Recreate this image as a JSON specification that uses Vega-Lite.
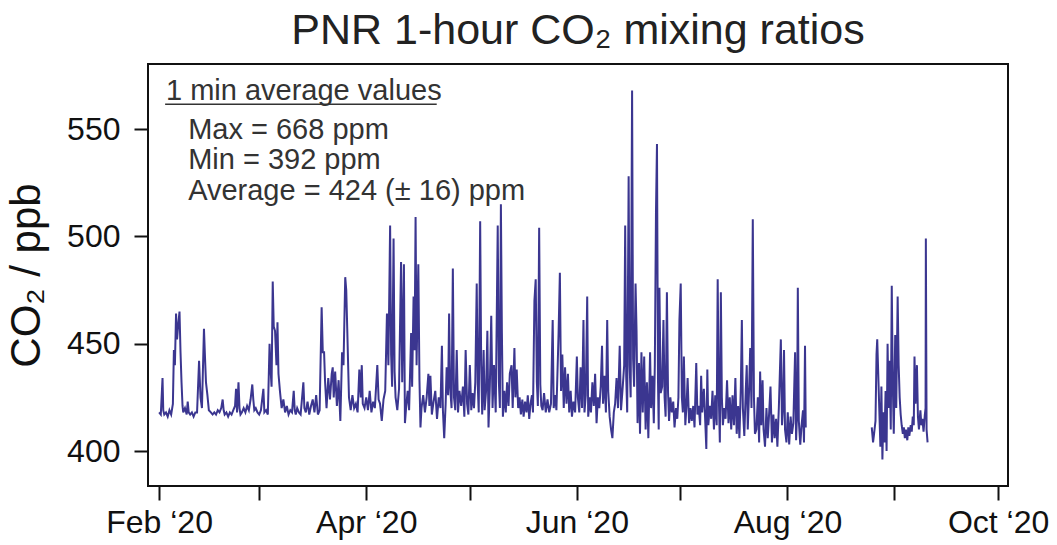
{
  "$schema": "https://vega.github.io/schema/vega-lite/v6.json",
  "autosize": {"type": "none"},
  "width": 860,
  "height": 422,
  "padding": {"left": 148, "top": 64, "right": 49, "bottom": 59},
  "background": "white",
  "config": {
    "font": "Liberation Sans",
    "view": {"stroke": "#111111", "strokeWidth": 2},
    "axis": {"grid": false, "domain": false, "tickColor": "#111111", "tickWidth": 2, "tickSize": 14, "labelColor": "#111111", "labelFont": "Liberation Sans", "labelFontSize": 32, "titleFont": "Liberation Sans", "titleFontWeight": "normal", "titleColor": "#111111"}
  },
  "title": {"text": "PNR 1-hour CO₂ mixing ratios", "fontSize": 43, "fontWeight": "normal", "color": "#222222", "font": "Liberation Sans", "anchor": "middle", "offset": 11},
  "layer": [
    {
      "data": {
        "format": {"parse": {"t": "utc:'%Y-%m-%d %H'"}},
        "values": [
          {"t":"2020-02-01 00","v":418},{"t":"2020-02-01 12","v":417},{"t":"2020-02-02 00","v":434},{"t":"2020-02-02 05","v":419},{"t":"2020-02-02 12","v":417},
          {"t":"2020-02-03 00","v":418},{"t":"2020-02-03 12","v":416},{"t":"2020-02-04 00","v":419},{"t":"2020-02-04 12","v":417},
          {"t":"2020-02-05 00","v":422},{"t":"2020-02-05 07","v":447},{"t":"2020-02-05 14","v":440},{"t":"2020-02-05 22","v":464},
          {"t":"2020-02-06 05","v":452},{"t":"2020-02-06 12","v":458},{"t":"2020-02-06 22","v":465},
          {"t":"2020-02-07 05","v":446},{"t":"2020-02-07 12","v":432},{"t":"2020-02-07 19","v":421},
          {"t":"2020-02-08 00","v":418},{"t":"2020-02-08 12","v":420},{"t":"2020-02-09 00","v":417},{"t":"2020-02-09 07","v":423},{"t":"2020-02-09 14","v":418},
          {"t":"2020-02-10 00","v":417},{"t":"2020-02-10 12","v":418},{"t":"2020-02-11 00","v":416},{"t":"2020-02-11 12","v":418},
          {"t":"2020-02-12 00","v":418},{"t":"2020-02-12 14","v":442},{"t":"2020-02-13 00","v":425},{"t":"2020-02-13 10","v":420},
          {"t":"2020-02-14 00","v":457},{"t":"2020-02-14 07","v":444},{"t":"2020-02-14 14","v":432},{"t":"2020-02-15 00","v":426},{"t":"2020-02-15 10","v":419},
          {"t":"2020-02-16 00","v":418},{"t":"2020-02-16 12","v":417},{"t":"2020-02-17 00","v":418},{"t":"2020-02-17 12","v":417},
          {"t":"2020-02-18 00","v":419},{"t":"2020-02-18 12","v":418},{"t":"2020-02-19 00","v":420},{"t":"2020-02-19 10","v":424},{"t":"2020-02-19 17","v":419},
          {"t":"2020-02-20 00","v":417},{"t":"2020-02-20 12","v":418},{"t":"2020-02-21 00","v":416},{"t":"2020-02-21 12","v":418},
          {"t":"2020-02-22 00","v":417},{"t":"2020-02-22 12","v":419},{"t":"2020-02-23 00","v":421},{"t":"2020-02-23 07","v":429},{"t":"2020-02-23 14","v":418},
          {"t":"2020-02-24 00","v":432},{"t":"2020-02-24 07","v":420},{"t":"2020-02-24 14","v":417},{"t":"2020-02-25 00","v":418},{"t":"2020-02-25 12","v":420},
          {"t":"2020-02-26 00","v":418},{"t":"2020-02-26 12","v":421},{"t":"2020-02-27 00","v":419},{"t":"2020-02-27 12","v":424},
          {"t":"2020-02-28 00","v":431},{"t":"2020-02-28 07","v":424},{"t":"2020-02-28 14","v":419},{"t":"2020-02-29 00","v":420},{"t":"2020-02-29 12","v":418},
          {"t":"2020-03-01 00","v":417},{"t":"2020-03-01 12","v":419},{"t":"2020-03-02 05","v":429},{"t":"2020-03-02 12","v":418},
          {"t":"2020-03-03 00","v":419},{"t":"2020-03-03 12","v":417},{"t":"2020-03-04 00","v":450},{"t":"2020-03-04 07","v":438},{"t":"2020-03-04 14","v":430},{"t":"2020-03-04 22","v":479},
          {"t":"2020-03-05 05","v":458},{"t":"2020-03-05 14","v":456},{"t":"2020-03-06 00","v":440},{"t":"2020-03-06 07","v":460},{"t":"2020-03-06 14","v":436},
          {"t":"2020-03-07 00","v":428},{"t":"2020-03-07 12","v":420},{"t":"2020-03-08 00","v":424},{"t":"2020-03-08 12","v":418},
          {"t":"2020-03-09 00","v":421},{"t":"2020-03-09 12","v":417},{"t":"2020-03-10 00","v":419},{"t":"2020-03-10 12","v":418},
          {"t":"2020-03-11 00","v":428},{"t":"2020-03-11 07","v":419},{"t":"2020-03-11 14","v":417},{"t":"2020-03-12 00","v":420},{"t":"2020-03-12 12","v":418},
          {"t":"2020-03-13 00","v":417},{"t":"2020-03-13 19","v":432},{"t":"2020-03-14 02","v":420},{"t":"2020-03-14 12","v":418},
          {"t":"2020-03-15 00","v":423},{"t":"2020-03-15 12","v":417},{"t":"2020-03-16 00","v":421},{"t":"2020-03-16 12","v":424},
          {"t":"2020-03-17 00","v":418},{"t":"2020-03-17 12","v":426},{"t":"2020-03-18 00","v":417},{"t":"2020-03-18 12","v":419},
          {"t":"2020-03-19 02","v":467},{"t":"2020-03-19 10","v":446},{"t":"2020-03-19 19","v":446},{"t":"2020-03-20 02","v":432},{"t":"2020-03-20 12","v":420},
          {"t":"2020-03-21 00","v":434},{"t":"2020-03-21 12","v":424},{"t":"2020-03-22 00","v":436},{"t":"2020-03-22 07","v":439},{"t":"2020-03-22 14","v":425},
          {"t":"2020-03-23 00","v":437},{"t":"2020-03-23 12","v":421},{"t":"2020-03-24 00","v":433},{"t":"2020-03-24 12","v":414},
          {"t":"2020-03-25 00","v":446},{"t":"2020-03-25 10","v":440},{"t":"2020-03-25 22","v":481},{"t":"2020-03-26 05","v":475},{"t":"2020-03-26 12","v":457},{"t":"2020-03-26 19","v":438},
          {"t":"2020-03-27 00","v":425},{"t":"2020-03-27 12","v":419},{"t":"2020-03-28 00","v":426},{"t":"2020-03-28 12","v":420},
          {"t":"2020-03-29 00","v":422},{"t":"2020-03-29 12","v":418},{"t":"2020-03-30 00","v":438},{"t":"2020-03-30 10","v":425},{"t":"2020-03-30 17","v":440},
          {"t":"2020-03-31 00","v":422},{"t":"2020-03-31 12","v":420},
          {"t":"2020-04-01 00","v":425},{"t":"2020-04-01 12","v":419},{"t":"2020-04-02 00","v":428},{"t":"2020-04-02 12","v":418},
          {"t":"2020-04-03 00","v":423},{"t":"2020-04-03 12","v":420},{"t":"2020-04-04 05","v":440},{"t":"2020-04-04 14","v":424},
          {"t":"2020-04-05 00","v":422},{"t":"2020-04-05 12","v":414},{"t":"2020-04-06 00","v":424},{"t":"2020-04-06 12","v":428},
          {"t":"2020-04-07 00","v":464},{"t":"2020-04-07 10","v":440},{"t":"2020-04-07 22","v":505},{"t":"2020-04-08 05","v":445},{"t":"2020-04-08 12","v":430},{"t":"2020-04-08 22","v":499},
          {"t":"2020-04-09 05","v":437},{"t":"2020-04-09 12","v":425},{"t":"2020-04-10 00","v":419},{"t":"2020-04-10 12","v":429},
          {"t":"2020-04-11 02","v":488},{"t":"2020-04-11 10","v":432},{"t":"2020-04-11 22","v":487},{"t":"2020-04-12 05","v":413},{"t":"2020-04-12 14","v":421},
          {"t":"2020-04-13 00","v":428},{"t":"2020-04-13 10","v":419},{"t":"2020-04-14 00","v":455},{"t":"2020-04-14 07","v":430},{"t":"2020-04-14 17","v":472},
          {"t":"2020-04-15 00","v":447},{"t":"2020-04-15 07","v":509},{"t":"2020-04-15 14","v":440},{"t":"2020-04-16 02","v":487},{"t":"2020-04-16 10","v":433},{"t":"2020-04-16 17","v":411},
          {"t":"2020-04-17 00","v":420},{"t":"2020-04-17 12","v":426},{"t":"2020-04-18 00","v":418},{"t":"2020-04-18 12","v":425},
          {"t":"2020-04-19 00","v":436},{"t":"2020-04-19 07","v":421},{"t":"2020-04-19 14","v":435},{"t":"2020-04-20 00","v":417},{"t":"2020-04-20 12","v":423},
          {"t":"2020-04-21 00","v":428},{"t":"2020-04-21 12","v":415},{"t":"2020-04-22 00","v":425},{"t":"2020-04-22 12","v":420},{"t":"2020-04-22 22","v":449},
          {"t":"2020-04-23 05","v":419},{"t":"2020-04-23 14","v":406},{"t":"2020-04-24 00","v":422},{"t":"2020-04-24 07","v":439},{"t":"2020-04-24 17","v":426},
          {"t":"2020-04-25 00","v":464},{"t":"2020-04-25 07","v":430},{"t":"2020-04-25 17","v":420},{"t":"2020-04-26 02","v":485},{"t":"2020-04-26 10","v":425},{"t":"2020-04-26 19","v":419},
          {"t":"2020-04-27 05","v":447},{"t":"2020-04-27 14","v":418},{"t":"2020-04-28 00","v":428},{"t":"2020-04-28 12","v":421},
          {"t":"2020-04-29 00","v":430},{"t":"2020-04-29 10","v":416},{"t":"2020-04-29 19","v":447},{"t":"2020-04-30 05","v":422},{"t":"2020-04-30 14","v":417},
          {"t":"2020-05-01 00","v":440},{"t":"2020-05-01 10","v":419},{"t":"2020-05-01 19","v":427},{"t":"2020-05-02 05","v":420},{"t":"2020-05-02 14","v":432},
          {"t":"2020-05-03 00","v":478},{"t":"2020-05-03 07","v":431},{"t":"2020-05-03 14","v":418},{"t":"2020-05-04 00","v":507},{"t":"2020-05-04 07","v":440},{"t":"2020-05-04 14","v":417},
          {"t":"2020-05-05 00","v":447},{"t":"2020-05-05 07","v":419},{"t":"2020-05-05 17","v":428},{"t":"2020-05-06 02","v":456},{"t":"2020-05-06 10","v":411},{"t":"2020-05-06 19","v":430},
          {"t":"2020-05-07 05","v":463},{"t":"2020-05-07 14","v":420},{"t":"2020-05-08 00","v":440},{"t":"2020-05-08 12","v":418},
          {"t":"2020-05-09 02","v":505},{"t":"2020-05-09 10","v":432},{"t":"2020-05-09 17","v":420},{"t":"2020-05-10 00","v":515},{"t":"2020-05-10 07","v":455},{"t":"2020-05-10 14","v":416},
          {"t":"2020-05-11 00","v":428},{"t":"2020-05-11 10","v":418},{"t":"2020-05-11 19","v":432},{"t":"2020-05-12 05","v":421},{"t":"2020-05-12 14","v":436},
          {"t":"2020-05-13 02","v":440},{"t":"2020-05-13 10","v":420},{"t":"2020-05-13 22","v":448},{"t":"2020-05-14 05","v":425},{"t":"2020-05-14 14","v":438},
          {"t":"2020-05-15 00","v":420},{"t":"2020-05-15 10","v":425},{"t":"2020-05-15 19","v":417},{"t":"2020-05-16 05","v":424},{"t":"2020-05-16 14","v":416},
          {"t":"2020-05-17 00","v":423},{"t":"2020-05-17 10","v":418},{"t":"2020-05-17 19","v":426},{"t":"2020-05-18 05","v":415},{"t":"2020-05-18 14","v":422},
          {"t":"2020-05-19 00","v":426},{"t":"2020-05-19 07","v":418},{"t":"2020-05-19 17","v":470},{"t":"2020-05-20 02","v":480},{"t":"2020-05-20 10","v":432},{"t":"2020-05-20 17","v":421},
          {"t":"2020-05-21 02","v":504},{"t":"2020-05-21 10","v":431},{"t":"2020-05-21 17","v":421},{"t":"2020-05-22 02","v":419},{"t":"2020-05-22 12","v":427},
          {"t":"2020-05-23 00","v":418},{"t":"2020-05-23 12","v":424},{"t":"2020-05-24 00","v":418},{"t":"2020-05-24 12","v":422},
          {"t":"2020-05-25 00","v":461},{"t":"2020-05-25 07","v":420},{"t":"2020-05-25 17","v":426},{"t":"2020-05-26 02","v":419},{"t":"2020-05-26 17","v":455},
          {"t":"2020-05-27 02","v":483},{"t":"2020-05-27 10","v":428},{"t":"2020-05-27 19","v":445},{"t":"2020-05-28 05","v":420},{"t":"2020-05-28 14","v":439},
          {"t":"2020-05-29 00","v":422},{"t":"2020-05-29 10","v":436},{"t":"2020-05-29 19","v":418},{"t":"2020-05-30 05","v":428},{"t":"2020-05-30 14","v":416},
          {"t":"2020-05-31 00","v":423},{"t":"2020-05-31 12","v":418},
          {"t":"2020-06-01 00","v":444},{"t":"2020-06-01 07","v":425},{"t":"2020-06-01 17","v":418},{"t":"2020-06-02 02","v":439},{"t":"2020-06-02 12","v":420},{"t":"2020-06-02 22","v":461},
          {"t":"2020-06-03 05","v":418},{"t":"2020-06-03 14","v":426},{"t":"2020-06-04 00","v":472},{"t":"2020-06-04 07","v":416},{"t":"2020-06-04 17","v":425},
          {"t":"2020-06-05 02","v":418},{"t":"2020-06-05 12","v":432},{"t":"2020-06-05 22","v":421},{"t":"2020-06-06 07","v":436},{"t":"2020-06-06 17","v":413},
          {"t":"2020-06-07 02","v":425},{"t":"2020-06-07 12","v":420},{"t":"2020-06-07 22","v":430},{"t":"2020-06-08 07","v":449},{"t":"2020-06-08 14","v":422},
          {"t":"2020-06-09 00","v":435},{"t":"2020-06-09 10","v":418},{"t":"2020-06-09 19","v":461},{"t":"2020-06-10 02","v":428},{"t":"2020-06-10 12","v":416},{"t":"2020-06-10 22","v":410},
          {"t":"2020-06-11 07","v":406},{"t":"2020-06-11 17","v":418},{"t":"2020-06-12 02","v":422},{"t":"2020-06-12 12","v":434},{"t":"2020-06-12 22","v":420},
          {"t":"2020-06-13 10","v":449},{"t":"2020-06-13 19","v":419},{"t":"2020-06-14 07","v":430},{"t":"2020-06-14 17","v":440},
          {"t":"2020-06-15 00","v":505},{"t":"2020-06-15 07","v":435},{"t":"2020-06-15 14","v":418},{"t":"2020-06-16 00","v":528},{"t":"2020-06-16 07","v":440},{"t":"2020-06-16 14","v":425},
          {"t":"2020-06-17 00","v":568},{"t":"2020-06-17 07","v":443},{"t":"2020-06-17 14","v":430},{"t":"2020-06-18 00","v":478},{"t":"2020-06-18 07","v":456},{"t":"2020-06-18 14","v":413},
          {"t":"2020-06-19 00","v":441},{"t":"2020-06-19 07","v":408},{"t":"2020-06-19 17","v":446},{"t":"2020-06-20 02","v":418},{"t":"2020-06-20 12","v":444},{"t":"2020-06-20 22","v":410},
          {"t":"2020-06-21 07","v":432},{"t":"2020-06-21 17","v":406},{"t":"2020-06-22 05","v":446},{"t":"2020-06-22 12","v":420},{"t":"2020-06-22 22","v":435},
          {"t":"2020-06-23 07","v":413},{"t":"2020-06-23 14","v":440},{"t":"2020-06-23 22","v":511},{"t":"2020-06-24 05","v":543},{"t":"2020-06-24 12","v":433},{"t":"2020-06-24 17","v":410},{"t":"2020-06-24 22","v":476},
          {"t":"2020-06-25 07","v":427},{"t":"2020-06-25 17","v":430},{"t":"2020-06-26 02","v":461},{"t":"2020-06-26 10","v":425},{"t":"2020-06-26 17","v":416},
          {"t":"2020-06-27 02","v":474},{"t":"2020-06-27 10","v":427},{"t":"2020-06-27 17","v":414},{"t":"2020-06-28 02","v":425},{"t":"2020-06-28 12","v":418},{"t":"2020-06-28 22","v":423},
          {"t":"2020-06-29 07","v":411},{"t":"2020-06-29 17","v":420},{"t":"2020-06-30 02","v":415},{"t":"2020-06-30 10","v":425},{"t":"2020-06-30 17","v":461},
          {"t":"2020-07-01 02","v":478},{"t":"2020-07-01 10","v":425},{"t":"2020-07-01 17","v":418},{"t":"2020-07-02 00","v":444},{"t":"2020-07-02 10","v":412},{"t":"2020-07-02 19","v":422},
          {"t":"2020-07-03 02","v":434},{"t":"2020-07-03 12","v":413},{"t":"2020-07-03 22","v":420},{"t":"2020-07-04 07","v":414},{"t":"2020-07-04 17","v":421},
          {"t":"2020-07-05 02","v":411},{"t":"2020-07-05 14","v":441},{"t":"2020-07-05 22","v":417},{"t":"2020-07-06 07","v":421},{"t":"2020-07-06 17","v":412},
          {"t":"2020-07-07 00","v":435},{"t":"2020-07-07 07","v":418},{"t":"2020-07-07 19","v":429},{"t":"2020-07-08 05","v":413},{"t":"2020-07-08 12","v":401},{"t":"2020-07-08 19","v":438},
          {"t":"2020-07-09 02","v":412},{"t":"2020-07-09 12","v":421},{"t":"2020-07-09 22","v":415},{"t":"2020-07-10 07","v":428},{"t":"2020-07-10 17","v":410},
          {"t":"2020-07-11 02","v":426},{"t":"2020-07-11 12","v":412},{"t":"2020-07-11 19","v":480},{"t":"2020-07-12 02","v":428},{"t":"2020-07-12 10","v":404},{"t":"2020-07-12 17","v":474},
          {"t":"2020-07-13 00","v":425},{"t":"2020-07-13 07","v":412},{"t":"2020-07-13 17","v":420},{"t":"2020-07-14 02","v":415},{"t":"2020-07-14 12","v":433},{"t":"2020-07-14 22","v":413},
          {"t":"2020-07-15 07","v":425},{"t":"2020-07-15 17","v":410},{"t":"2020-07-16 02","v":426},{"t":"2020-07-16 12","v":412},{"t":"2020-07-16 22","v":434},
          {"t":"2020-07-17 07","v":408},{"t":"2020-07-17 17","v":421},{"t":"2020-07-18 02","v":406},{"t":"2020-07-18 12","v":430},{"t":"2020-07-18 19","v":461},
          {"t":"2020-07-19 02","v":420},{"t":"2020-07-19 12","v":407},{"t":"2020-07-19 22","v":428},{"t":"2020-07-20 05","v":440},{"t":"2020-07-20 12","v":410},{"t":"2020-07-20 22","v":430},
          {"t":"2020-07-21 05","v":448},{"t":"2020-07-21 14","v":420},{"t":"2020-07-21 23","v":508},{"t":"2020-07-22 07","v":425},{"t":"2020-07-22 14","v":408},
          {"t":"2020-07-23 00","v":410},{"t":"2020-07-23 10","v":425},{"t":"2020-07-23 19","v":404},{"t":"2020-07-24 02","v":437},{"t":"2020-07-24 10","v":412},{"t":"2020-07-24 19","v":433},
          {"t":"2020-07-25 02","v":410},{"t":"2020-07-25 12","v":402},{"t":"2020-07-25 22","v":420},{"t":"2020-07-26 07","v":406},{"t":"2020-07-26 17","v":418},
          {"t":"2020-07-27 02","v":430},{"t":"2020-07-27 12","v":404},{"t":"2020-07-27 22","v":417},{"t":"2020-07-28 07","v":406},{"t":"2020-07-28 17","v":415},
          {"t":"2020-07-29 02","v":402},{"t":"2020-07-29 12","v":420},{"t":"2020-07-30 02","v":452},{"t":"2020-07-30 10","v":412},{"t":"2020-07-30 17","v":420},
          {"t":"2020-07-31 00","v":447},{"t":"2020-07-31 07","v":410},{"t":"2020-07-31 17","v":404},
          {"t":"2020-08-01 02","v":418},{"t":"2020-08-01 12","v":403},{"t":"2020-08-01 22","v":416},{"t":"2020-08-02 07","v":408},{"t":"2020-08-02 17","v":413},
          {"t":"2020-08-03 05","v":446},{"t":"2020-08-03 12","v":405},{"t":"2020-08-03 19","v":418},{"t":"2020-08-04 00","v":476},{"t":"2020-08-04 07","v":414},{"t":"2020-08-04 17","v":403},
          {"t":"2020-08-05 02","v":412},{"t":"2020-08-05 12","v":419},{"t":"2020-08-05 19","v":404},{"t":"2020-08-06 02","v":449},{"t":"2020-08-06 07","v":411},
          {"t":"2020-08-15 00","v":null},
          {"t":"2020-08-25 10","v":411},{"t":"2020-08-25 19","v":404},{"t":"2020-08-26 02","v":408},{"t":"2020-08-26 12","v":414},{"t":"2020-08-26 19","v":445},
          {"t":"2020-08-27 00","v":452},{"t":"2020-08-27 07","v":436},{"t":"2020-08-27 14","v":420},{"t":"2020-08-27 22","v":402},
          {"t":"2020-08-28 05","v":430},{"t":"2020-08-28 12","v":396},{"t":"2020-08-28 19","v":418},{"t":"2020-08-29 02","v":404},{"t":"2020-08-29 10","v":428},{"t":"2020-08-29 17","v":400},
          {"t":"2020-08-30 00","v":450},{"t":"2020-08-30 07","v":420},{"t":"2020-08-30 14","v":442},{"t":"2020-08-30 22","v":410},
          {"t":"2020-08-31 05","v":477},{"t":"2020-08-31 12","v":432},{"t":"2020-08-31 19","v":408},
          {"t":"2020-09-01 05","v":454},{"t":"2020-09-01 12","v":420},{"t":"2020-09-01 22","v":472},{"t":"2020-09-02 05","v":440},{"t":"2020-09-02 12","v":425},{"t":"2020-09-02 19","v":417},
          {"t":"2020-09-03 02","v":412},{"t":"2020-09-03 10","v":408},{"t":"2020-09-03 17","v":411},{"t":"2020-09-04 00","v":406},{"t":"2020-09-04 07","v":410},{"t":"2020-09-04 17","v":405},
          {"t":"2020-09-05 00","v":411},{"t":"2020-09-05 07","v":407},{"t":"2020-09-05 17","v":412},{"t":"2020-09-06 00","v":409},{"t":"2020-09-06 07","v":416},{"t":"2020-09-06 14","v":412},{"t":"2020-09-06 19","v":444},
          {"t":"2020-09-07 02","v":422},{"t":"2020-09-07 12","v":440},{"t":"2020-09-07 19","v":416},{"t":"2020-09-08 02","v":410},{"t":"2020-09-08 12","v":419},{"t":"2020-09-08 19","v":412},
          {"t":"2020-09-09 02","v":415},{"t":"2020-09-09 10","v":409},{"t":"2020-09-09 19","v":417},{"t":"2020-09-10 00","v":420},{"t":"2020-09-10 02","v":499},{"t":"2020-09-10 07","v":410},{"t":"2020-09-10 14","v":404}
        ]
      },
      "mark": {"type": "line", "color": "#3b3690", "strokeWidth": 2, "invalid": "break-paths-show-domains"},
      "encoding": {
        "x": {
          "field": "t", "type": "temporal",
          "scale": {"type": "utc", "domain": [{"year": 2020, "month": 1, "date": 28, "hours": 19, "utc": true}, {"year": 2020, "month": 10, "date": 3, "hours": 21, "utc": true}]},
          "axis": {
            "title": null,
            "values": [
              {"year": 2020, "month": 2, "date": 1, "utc": true}, {"year": 2020, "month": 3, "date": 1, "utc": true},
              {"year": 2020, "month": 4, "date": 1, "utc": true}, {"year": 2020, "month": 5, "date": 1, "utc": true},
              {"year": 2020, "month": 6, "date": 1, "utc": true}, {"year": 2020, "month": 7, "date": 1, "utc": true},
              {"year": 2020, "month": 8, "date": 1, "utc": true}, {"year": 2020, "month": 9, "date": 1, "utc": true},
              {"year": 2020, "month": 10, "date": 1, "utc": true}
            ],
            "labelExpr": "utcmonth(datum.value) % 2 == 1 ? utcFormat(datum.value, '%b ‘%y') : ''",
            "labelPadding": 7,
            "labelOverlap": false,
            "labelFlush": false
          }
        },
        "y": {
          "field": "v", "type": "quantitative",
          "scale": {"domain": [383.7, 580.3], "nice": false, "zero": false},
          "axis": {"values": [400, 450, 500, 550], "title": "CO₂ / ppb", "titleFontSize": 42, "titlePadding": 18, "labelPadding": 14}
        }
      }
    },
    {
      "data": {"values": [{}]},
      "mark": {"type": "text", "align": "left", "baseline": "alphabetic", "fontSize": 29, "color": "#333333", "text": "1 min average values"},
      "encoding": {
        "x": {"datum": {"year": 2020, "month": 2, "date": 3, "hours": 0, "utc": true}, "type": "temporal"},
        "y": {"datum": 563.6, "type": "quantitative"}
      }
    },
    {
      "data": {"values": [{}]},
      "mark": {"type": "rule", "color": "#333333", "strokeWidth": 1.5},
      "encoding": {
        "x": {"datum": {"year": 2020, "month": 2, "date": 2, "hours": 18, "utc": true}, "type": "temporal"},
        "x2": {"datum": {"year": 2020, "month": 4, "date": 21, "hours": 10, "utc": true}},
        "y": {"datum": 561.6, "type": "quantitative"}
      }
    },
    {
      "data": {"values": [{}]},
      "mark": {"type": "text", "align": "left", "baseline": "alphabetic", "fontSize": 29, "color": "#333333", "text": "Max = 668 ppm"},
      "encoding": {
        "x": {"datum": {"year": 2020, "month": 2, "date": 9, "hours": 10, "utc": true}, "type": "temporal"},
        "y": {"datum": 545.4, "type": "quantitative"}
      }
    },
    {
      "data": {"values": [{}]},
      "mark": {"type": "text", "align": "left", "baseline": "alphabetic", "fontSize": 29, "color": "#333333", "text": "Min = 392 ppm"},
      "encoding": {
        "x": {"datum": {"year": 2020, "month": 2, "date": 9, "hours": 10, "utc": true}, "type": "temporal"},
        "y": {"datum": 531.4, "type": "quantitative"}
      }
    },
    {
      "data": {"values": [{}]},
      "mark": {"type": "text", "align": "left", "baseline": "alphabetic", "fontSize": 29, "color": "#333333", "text": "Average = 424 (± 16) ppm"},
      "encoding": {
        "x": {"datum": {"year": 2020, "month": 2, "date": 9, "hours": 10, "utc": true}, "type": "temporal"},
        "y": {"datum": 517, "type": "quantitative"}
      }
    }
  ]
}
